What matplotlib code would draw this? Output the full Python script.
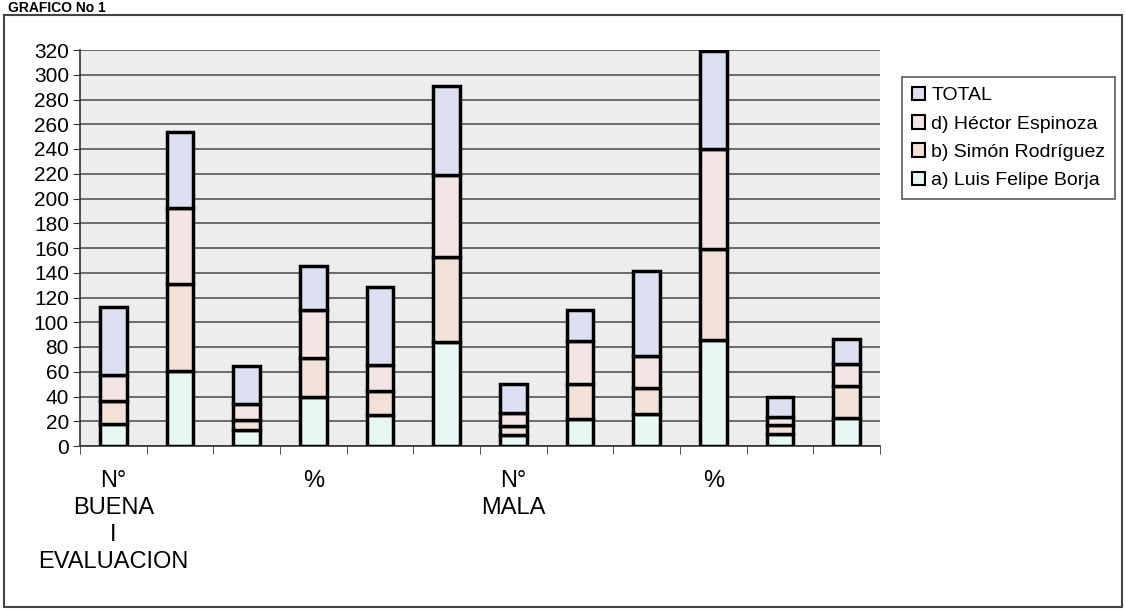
import numpy as np
import matplotlib.pyplot as plt
from matplotlib.patches import Rectangle, Patch

categorias = ['N°\nBUENA\nI\nEVALUACION', '', '', '%', '', '', 'N°\nMALA', '', '', '%', '', '']
luis_felipe = [18, 61, 13, 40, 25, 84, 9, 21.6, 25.6, 86, 10, 23]
simon_rod = [18, 70, 8, 31, 19.5, 69, 7.5, 28.5, 21, 73, 7, 25.6]
hector_esp = [21, 61, 13, 39, 21, 66, 10.5, 35, 26.4, 81, 6.7, 17.8]
total = [55, 62, 31, 35.5, 63, 72, 23, 25, 68.7, 79, 16, 20.2]

series = [
    ('a) Luis Felipe Borja', luis_felipe, '#E6F7F4'),
    ('b) Simón Rodríguez', simon_rod, '#F2E1D6'),
    ('d) Héctor Espinoza', hector_esp, '#F3E5E4'),
    ('TOTAL', total, '#DCE0F0'),
]

plt.rcParams['font.family'] = ['Liberation Sans', 'DejaVu Sans']

fig = plt.figure(figsize=(11.26, 6.10), dpi=100)
ax = fig.add_axes([80 / 1126, 1 - 446 / 610, 800 / 1126, 396 / 610])
ax.set_facecolor('#EDEDED')

x = np.arange(len(categorias))
bottom = np.zeros(len(categorias))
handles = []
for name, vals, col in series:
    vals = np.array(vals)
    ax.bar(x, vals, 0.4, bottom=bottom, color=col, edgecolor='black', linewidth=2.5, zorder=3)
    bottom += vals
    handles.append(Patch(facecolor=col, edgecolor='black', linewidth=1.5, label=name))

ax.set_xlim(-0.5, len(categorias) - 0.5)
ax.set_ylim(0, 320)
ax.set_yticks(range(0, 321, 20))
ax.yaxis.grid(True, color='#555555', linewidth=1.2, zorder=1)
ax.tick_params(axis='y', labelsize=15, length=5, color='#333333', pad=3)

ax.set_xticks(x)
ax.set_xticklabels(categorias, fontsize=17, linespacing=1.3)
ax.tick_params(axis='x', length=0, pad=17)
ax.set_xticks(np.arange(-0.5, len(categorias)), minor=True)
ax.tick_params(axis='x', which='minor', length=6, color='#333333')

for s in ['top', 'right']:
    ax.spines[s].set_visible(False)
for s in ['left', 'bottom']:
    ax.spines[s].set_color('#333333')
    ax.spines[s].set_linewidth(1.2)

leg = fig.legend(handles=handles[::-1], loc='upper left',
                 bbox_to_anchor=(902 / 1126, 1 - 77 / 610), fontsize=14,
                 frameon=True, fancybox=False, edgecolor='#333333',
                 handlelength=0.7, handleheight=0.7, handletextpad=0.3,
                 labelspacing=0.55, borderpad=0.5, borderaxespad=0)
leg.get_frame().set_linewidth(1.2)

# marco exterior del gráfico
fig.add_artist(Rectangle((4 / 1126, 3 / 610), 1118 / 1126, 592 / 610,
                         transform=fig.transFigure, fill=False,
                         edgecolor='#444444', linewidth=1.5))
fig.text(8 / 1126, 0.999, 'GRAFICO No 1', fontsize=10, fontweight='bold', va='top')

fig.savefig('out.png', dpi=100, facecolor='white')
